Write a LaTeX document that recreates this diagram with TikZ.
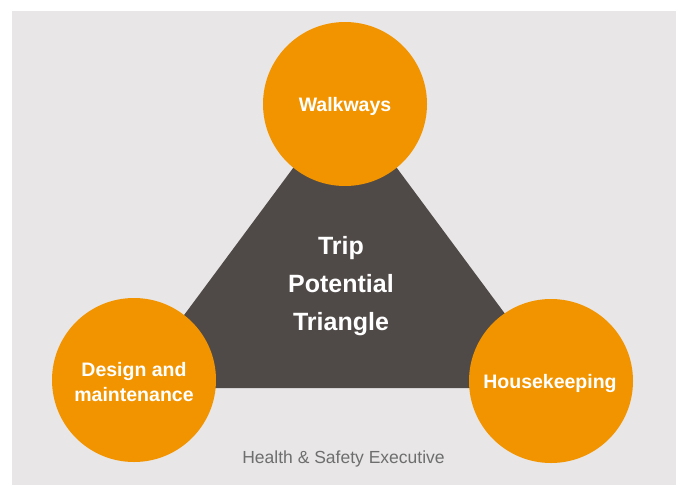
\documentclass[tikz,border=0pt]{standalone}
\usepackage{fontspec}
\setmainfont{Liberation Sans}
\definecolor{bgc}{HTML}{E8E6E7}
\definecolor{orangec}{HTML}{F29400}
\definecolor{darkc}{HTML}{4F4A47}
\definecolor{footc}{HTML}{6E6E6E}
\begin{document}
\begin{tikzpicture}[x=1pt,y=-1pt,
  circ/.style={circle,fill=orangec,minimum size=164pt,inner sep=0pt},
  label/.style={text=white,font=\fontsize{19.5}{25}\selectfont\bfseries,align=center},
  centertext/.style={text=white,font=\fontsize{25}{38}\selectfont\bfseries,align=center},
  foot/.style={text=footc,font=\fontsize{17.5}{20}\selectfont}]
\useasboundingbox (0,0) rectangle (682,485);
\fill[white] (0,0) rectangle (682,485);
\fill[bgc] (12,11) rectangle (676,485);
\fill[darkc] (130,388) -- (345,98) -- (560,388) -- cycle;
\node[circ] (walk) at (345,104) {};
\node[circ] (design) at (134,380) {};
\node[circ] (house) at (551,381) {};
\node[label] (walkt) at (345,106.5) {Walkways};
\node[label] (designt) at (134,382) {Design and\\maintenance};
\node[label] (houset) at (550,383) {Housekeeping};
\node[centertext] (trip) at (341,286) {Trip\\Potential\\Triangle};
\node[foot] (hse) at (343.5,459) {Health \& Safety Executive};
\end{tikzpicture}
\end{document}
